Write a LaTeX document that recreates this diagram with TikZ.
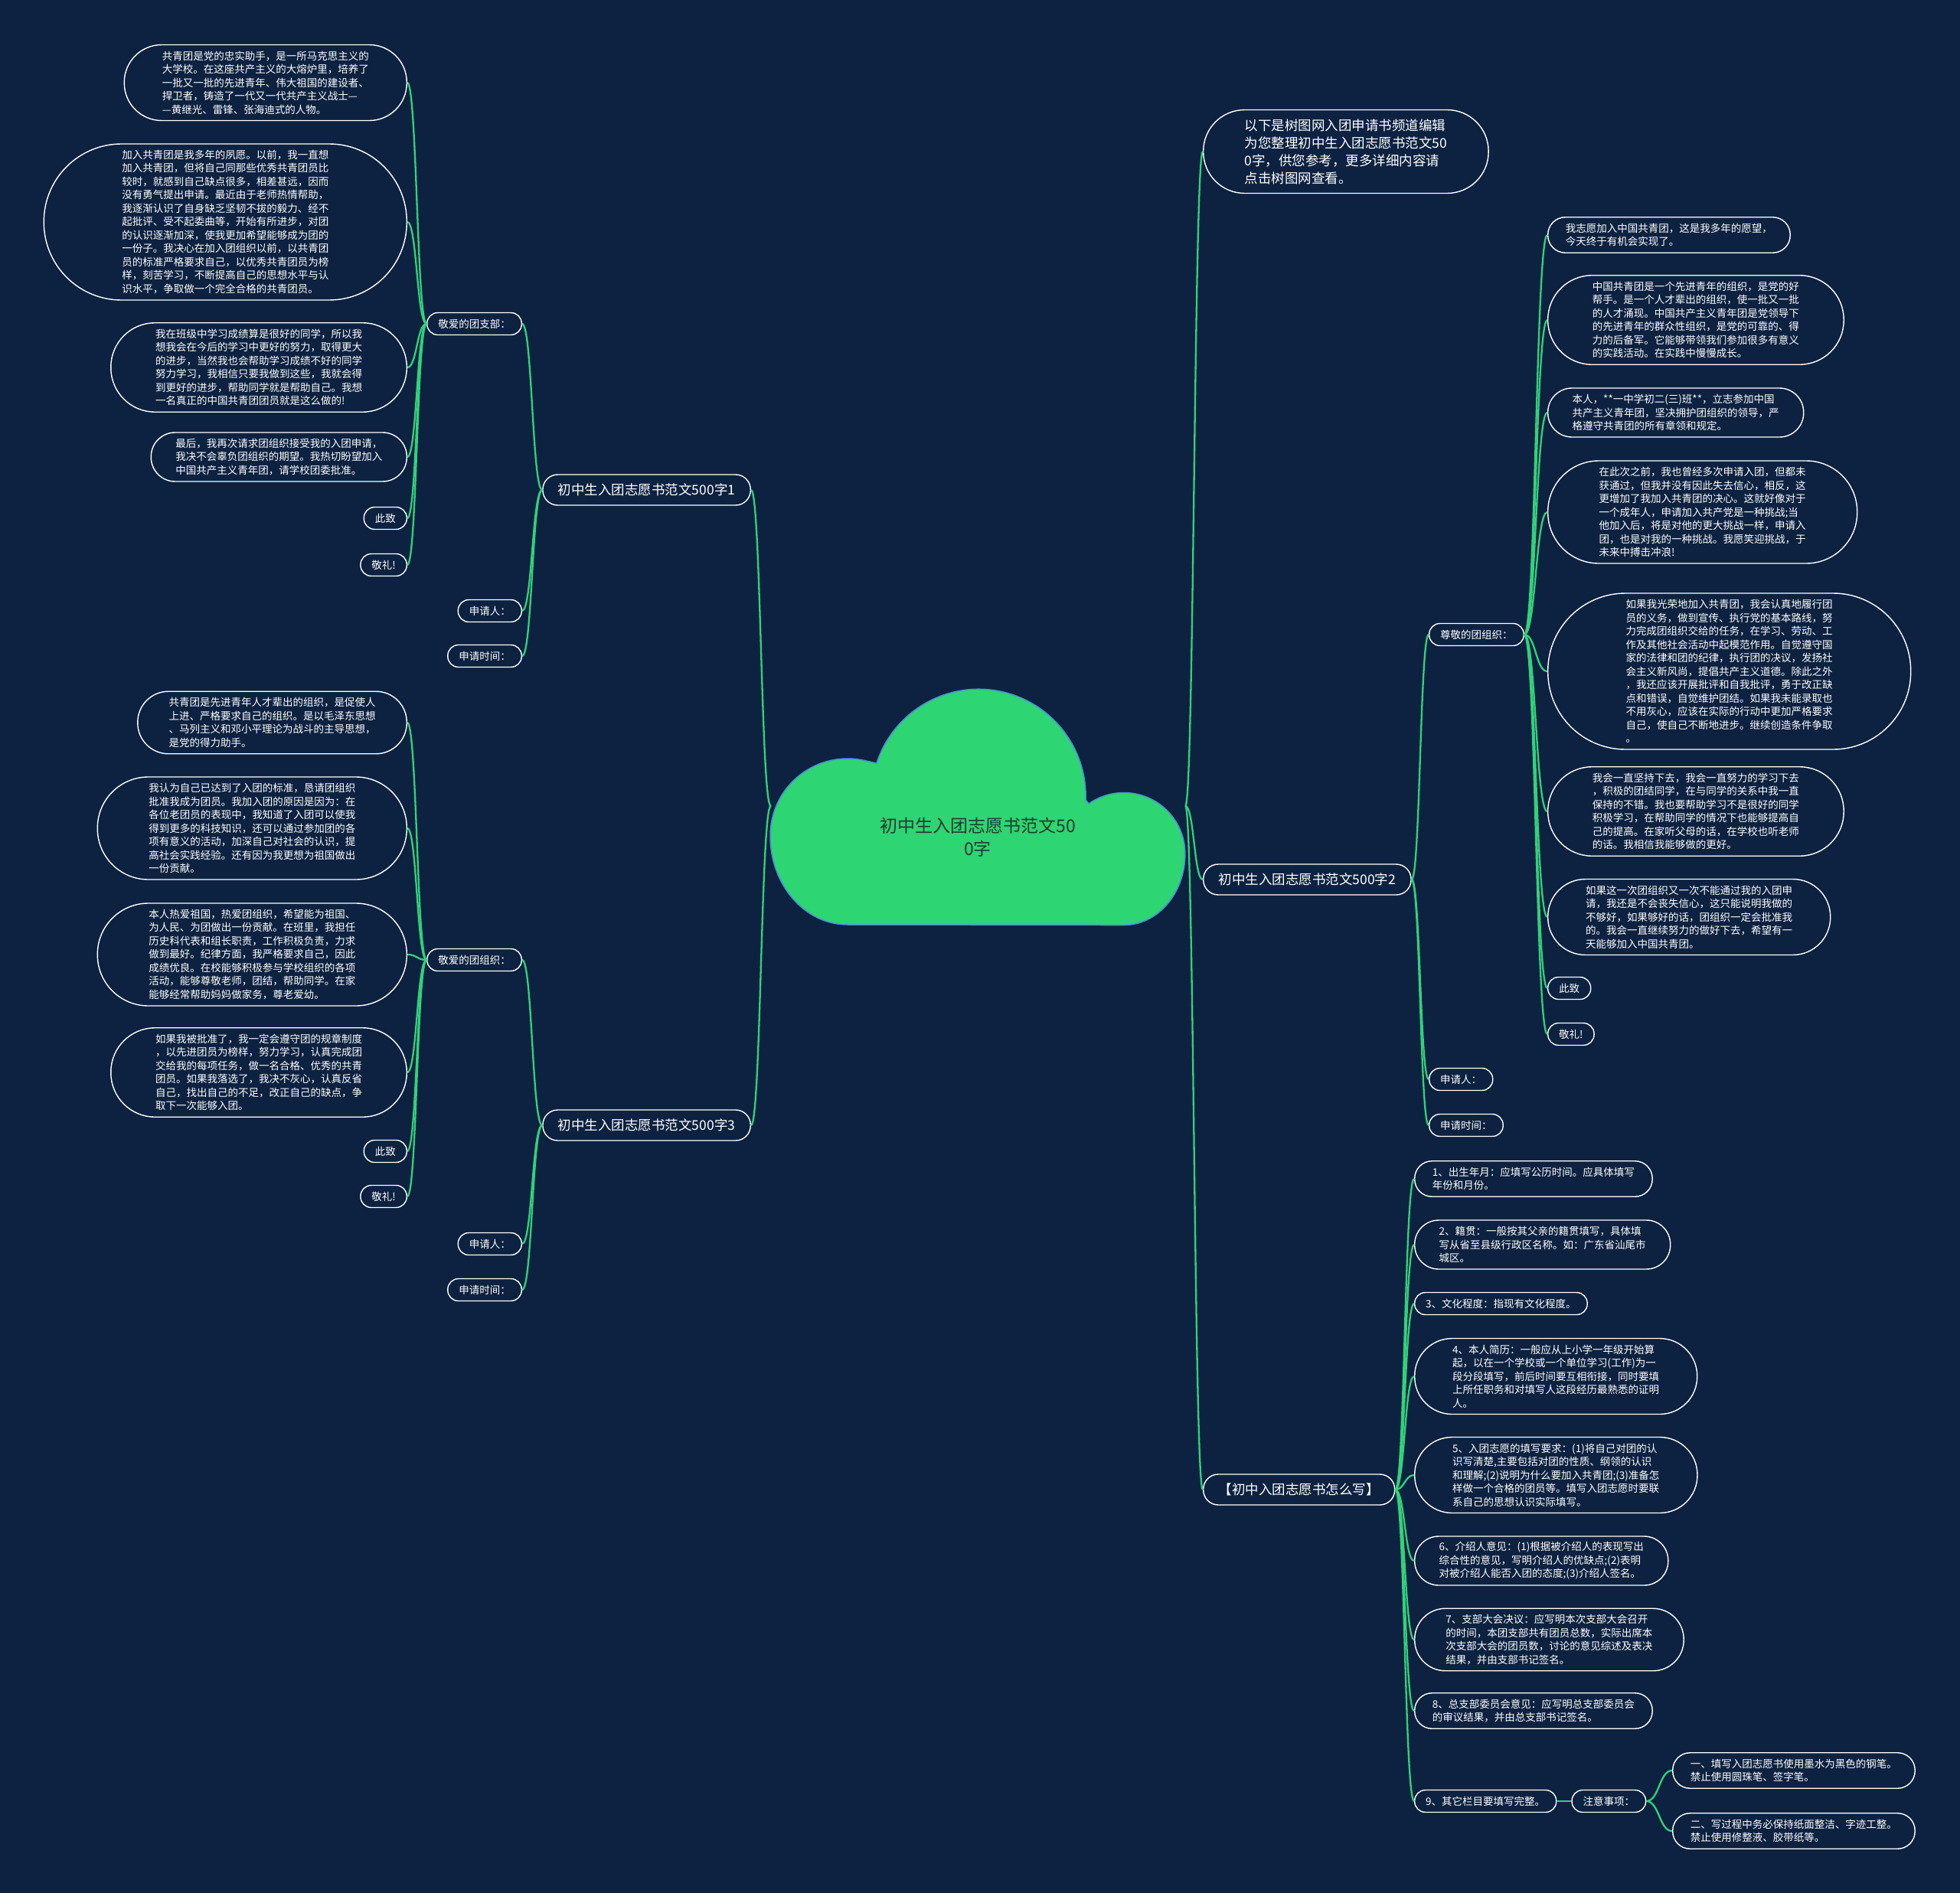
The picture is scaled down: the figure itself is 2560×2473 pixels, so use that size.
\documentclass[tikz,border=0pt]{standalone}
\usepackage{fontspec}
\setmainfont{Noto Sans CJK SC}
\usetikzlibrary{positioning, calc}
\definecolor{cBg}{HTML}{0D2240}
\definecolor{cLn}{HTML}{33D17A}
\definecolor{cCld}{HTML}{2ED573}
\definecolor{cCldB}{HTML}{4A90D9}
\definecolor{cRootT}{HTML}{1E3A2E}

\begin{document}
\begin{tikzpicture}[
    x=1pt, y=-1pt,
    nd/.style={rectangle, draw=white, fill=cBg, line width=1.4pt,
               text=white, align=left, inner ysep=5pt},
    % k = number of text lines
    nl/.style={nd, font=\fontsize{13.5}{17.5}\selectfont,
               minimum height={(#1-1)*17.5pt+29pt},
               inner xsep={(#1-1)*8.75pt+14.5pt},
               rounded corners={(#1-1)*8.75pt+14pt}},
    nbr/.style={nd, font=\fontsize{17.5}{23}\selectfont,
                minimum height=40pt, inner xsep=20pt, rounded corners=19.5pt},
    ln/.style={draw=cLn, line width=2.3pt,
               to path={let \p1=(\tikztostart), \p2=(\tikztotarget) in
                        .. controls ({0.5*\x1+0.5*\x2},\y1) and ({0.5*\x1+0.5*\x2},\y2) .. (\p2)}},
]

\fill[cBg] (0,0) rectangle (2560,2473);

% === CENTRE: cloud ===
\filldraw[fill=cCld, draw=cCldB, line width=1.5pt]
    (1107,1208) arc[start angle=90, end angle=180, x radius=101, y radius=116]
    arc[start angle=180, end angle=285, radius=101]
    -- (1145,997) arc[start angle=198, end angle=362, radius=140]
    -- (1422,1050) arc[start angle=235, end angle=360, radius=80]
    arc[start angle=0, end angle=90, x radius=80, y radius=93]
    -- cycle;
\node[minimum width=541pt, minimum height=310pt, inner sep=0pt] (root) at (1277.5,1053) {};
\node[font=\fontsize{23}{30}\selectfont, text=cRootT, align=center] (rootT) at (1277,1094)
    {初中生入团志愿书范文50\\0字};

% === MAIN BRANCHES ===
\node[nbr, anchor=east] (b1) at (981,640) {初中生入团志愿书范文500字1};
\node[nbr, anchor=east] (b3) at (981,1470) {初中生入团志愿书范文500字3};
\node[nbr, anchor=west, minimum height=109pt, inner xsep=54pt, rounded corners=54pt]
    (intro) at (1571,198)
    {以下是树图网入团申请书频道编辑\\为您整理初中生入团志愿书范文50\\0字，供您参考，更多详细内容请\\点击树图网查看。};
\node[nbr, anchor=west] (b2) at (1571,1149) {初中生入团志愿书范文500字2};
\node[nbr, anchor=west] (bw) at (1571,1946) {【初中入团志愿书怎么写】};

% === BRANCH 1 (left, top) ===
\node[nl=1, anchor=east] (g1) at (682,423) {敬爱的团支部：};
\node[nl=1, anchor=east] (a1) at (682,798) {申请人：};
\node[nl=1, anchor=east] (t1) at (682,857) {申请时间：};

\node[nl=5, anchor=east] (l1) at (532,108)
    {共青团是党的忠实助手，是一所马克思主义的\\大学校。在这座共产主义的大熔炉里，培养了\\一批又一批的先进青年、伟大祖国的建设者、\\捍卫者，铸造了一代又一代共产主义战士—\\—黄继光、雷锋、张海迪式的人物。};
\node[nl=11, anchor=east] (l2) at (532,290)
    {加入共青团是我多年的夙愿。以前，我一直想\\加入共青团，但将自己同那些优秀共青团员比\\较时，就感到自己缺点很多，相差甚远，因而\\没有勇气提出申请。最近由于老师热情帮助，\\我逐渐认识了自身缺乏坚韧不拔的毅力、经不\\起批评、受不起委曲等，开始有所进步，对团\\的认识逐渐加深，使我更加希望能够成为团的\\一份子。我决心在加入团组织以前，以共青团\\员的标准严格要求自己，以优秀共青团员为榜\\样，刻苦学习，不断提高自己的思想水平与认\\识水平，争取做一个完全合格的共青团员。};
\node[nl=6, anchor=east] (l3) at (532,480)
    {我在班级中学习成绩算是很好的同学，所以我\\想我会在今后的学习中更好的努力，取得更大\\的进步，当然我也会帮助学习成绩不好的同学\\努力学习，我相信只要我做到这些，我就会得\\到更好的进步，帮助同学就是帮助自己。我想\\一名真正的中国共青团团员就是这么做的!};
\node[nl=3, anchor=east] (l4) at (532,597)
    {最后，我再次请求团组织接受我的入团申请，\\我决不会辜负团组织的期望。我热切盼望加入\\中国共产主义青年团，请学校团委批准。};
\node[nl=1, anchor=east] (l5) at (532,677) {此致};
\node[nl=1, anchor=east] (l6) at (532,738) {敬礼!};

% === BRANCH 3 (left, bottom) ===
\node[nl=1, anchor=east] (g3) at (682,1254) {敬爱的团组织：};
\node[nl=1, anchor=east] (a3) at (682,1625) {申请人：};
\node[nl=1, anchor=east] (t3) at (682,1685) {申请时间：};

\node[nl=4, anchor=east] (m1) at (532,944)
    {共青团是先进青年人才辈出的组织，是促使人\\上进、严格要求自己的组织。是以毛泽东思想\\、马列主义和邓小平理论为战斗的主导思想，\\是党的得力助手。};
\node[nl=7, anchor=east] (m2) at (532,1082)
    {我认为自己已达到了入团的标准，恳请团组织\\批准我成为团员。我加入团的原因是因为：在\\各位老团员的表现中，我知道了入团可以使我\\得到更多的科技知识，还可以通过参加团的各\\项有意义的活动，加深自己对社会的认识，提\\高社会实践经验。还有因为我更想为祖国做出\\一份贡献。};
\node[nl=7, anchor=east] (m3) at (532,1247)
    {本人热爱祖国，热爱团组织，希望能为祖国、\\为人民、为团做出一份贡献。在班里，我担任\\历史科代表和组长职责，工作积极负责，力求\\做到最好。纪律方面，我严格要求自己，因此\\成绩优良。在校能够积极参与学校组织的各项\\活动，能够尊敬老师，团结，帮助同学。在家\\能够经常帮助妈妈做家务，尊老爱幼。};
\node[nl=6, anchor=east] (m4) at (532,1401)
    {如果我被批准了，我一定会遵守团的规章制度\\，以先进团员为榜样，努力学习，认真完成团\\交给我的每项任务，做一名合格、优秀的共青\\团员。如果我落选了，我决不灰心，认真反省\\自己，找出自己的不足，改正自己的缺点，争\\取下一次能够入团。};
\node[nl=1, anchor=east] (m5) at (532,1504) {此致};
\node[nl=1, anchor=east] (m6) at (532,1563) {敬礼!};

% === BRANCH 2 (right) ===
\node[nl=1, anchor=west] (g2) at (1866,829) {尊敬的团组织：};
\node[nl=1, anchor=west] (a2) at (1866,1410) {申请人：};
\node[nl=1, anchor=west] (t2) at (1866,1470) {申请时间：};

\node[nl=2, anchor=west] (r1) at (2021,307)
    {我志愿加入中国共青团，这是我多年的愿望，\\今天终于有机会实现了。};
\node[nl=6, anchor=west] (r2) at (2021,418)
    {中国共青团是一个先进青年的组织，是党的好\\帮手。是一个人才辈出的组织，使一批又一批\\的人才涌现。中国共产主义青年团是党领导下\\的先进青年的群众性组织，是党的可靠的、得\\力的后备军。它能够带领我们参加很多有意义\\的实践活动。在实践中慢慢成长。};
\node[nl=3, anchor=west] (r3) at (2021,539)
    {本人，**一中学初二(三)班**，立志参加中国\\共产主义青年团，坚决拥护团组织的领导，严\\格遵守共青团的所有章领和规定。};
\node[nl=7, anchor=west] (r4) at (2021,669)
    {在此次之前，我也曾经多次申请入团，但都未\\获通过，但我并没有因此失去信心，相反，这\\更增加了我加入共青团的决心。这就好像对于\\一个成年人，申请加入共产党是一种挑战;当\\他加入后，将是对他的更大挑战一样，申请入\\团，也是对我的一种挑战。我愿笑迎挑战，于\\未来中搏击冲浪!};
\node[nl=11, anchor=west] (r5) at (2021,877)
    {如果我光荣地加入共青团，我会认真地履行团\\员的义务，做到宣传、执行党的基本路线，努\\力完成团组织交给的任务，在学习、劳动、工\\作及其他社会活动中起模范作用。自觉遵守国\\家的法律和团的纪律，执行团的决议，发扬社\\会主义新风尚，提倡共产主义道德。除此之外\\，我还应该开展批评和自我批评，勇于改正缺\\点和错误，自觉维护团结。如果我未能录取也\\不用灰心，应该在实际的行动中更加严格要求\\自己，使自己不断地进步。继续创造条件争取\\。};
\node[nl=6, anchor=west] (r6) at (2021,1060)
    {我会一直坚持下去，我会一直努力的学习下去\\，积极的团结同学，在与同学的关系中我一直\\保持的不错。我也要帮助学习不是很好的同学\\积极学习，在帮助同学的情况下也能够提高自\\己的提高。在家听父母的话，在学校也听老师\\的话。我相信我能够做的更好。};
\node[nl=5, anchor=west] (r7) at (2021,1198)
    {如果这一次团组织又一次不能通过我的入团申\\请，我还是不会丧失信心，这只能说明我做的\\不够好，如果够好的话，团组织一定会批准我\\的。我会一直继续努力的做好下去，希望有一\\天能够加入中国共青团。};
\node[nl=1, anchor=west] (r8) at (2021,1291) {此致};
\node[nl=1, anchor=west] (r9) at (2021,1351) {敬礼!};

% === HOW TO WRITE (right, bottom) ===
\node[nl=2, anchor=west] (w1) at (1847,1540)
    {1、出生年月：应填写公历时间。应具体填写\\年份和月份。};
\node[nl=3, anchor=west] (w2) at (1847,1626)
    {2、籍贯：一般按其父亲的籍贯填写，具体填\\写从省至县级行政区名称。如：广东省汕尾市\\城区。};
\node[nl=1, anchor=west] (w3) at (1847,1703) {3、文化程度：指现有文化程度。};
\node[nl=5, anchor=west] (w4) at (1847,1798)
    {4、本人简历：一般应从上小学一年级开始算\\起，以在一个学校或一个单位学习(工作)为一\\段分段填写，前后时间要互相衔接，同时要填\\上所任职务和对填写人这段经历最熟悉的证明\\人。};
\node[nl=5, anchor=west] (w5) at (1847,1927)
    {5、入团志愿的填写要求：(1)将自己对团的认\\识写清楚,主要包括对团的性质、纲领的认识\\和理解;(2)说明为什么要加入共青团;(3)准备怎\\样做一个合格的团员等。填写入团志愿时要联\\系自己的思想认识实际填写。};
\node[nl=3, anchor=west] (w6) at (1847,2039)
    {6、介绍人意见：(1)根据被介绍人的表现写出\\综合性的意见，写明介绍人的优缺点;(2)表明\\对被介绍人能否入团的态度;(3)介绍人签名。};
\node[nl=4, anchor=west] (w7) at (1847,2142)
    {7、支部大会决议：应写明本次支部大会召开\\的时间，本团支部共有团员总数，实际出席本\\次支部大会的团员数，讨论的意见综述及表决\\结果，并由支部书记签名。};
\node[nl=2, anchor=west] (w8) at (1847,2235)
    {8、总支部委员会意见：应写明总支部委员会\\的审议结果，并由总支部书记签名。};
\node[nl=1, anchor=west] (w9) at (1847,2353) {9、其它栏目要填写完整。};

\node[nl=1, right=19pt of w9] (z) {注意事项：};
\node[nl=2, anchor=west] (z1) at (2184,2313)
    {一、填写入团志愿书使用墨水为黑色的钢笔。\\禁止使用圆珠笔、签字笔。};
\node[nl=2, anchor=west] (z2) at (2184,2392)
    {二、写过程中务必保持纸面整洁、字迹工整。\\禁止使用修整液、胶带纸等。};

% === CONNECTORS ===
\draw[ln] (root.west) to (b1.east);
\draw[ln] (root.west) to (b3.east);
\draw[ln] (root.east) to (intro.west);
\draw[ln] (root.east) to (b2.west);
\draw[ln] (root.east) to (bw.west);

\draw[ln] (b1.west) to (g1.east);
\draw[ln] (b1.west) to (a1.east);
\draw[ln] (b1.west) to (t1.east);
\draw[ln] (g1.west) to (l1.east);
\draw[ln] (g1.west) to (l2.east);
\draw[ln] (g1.west) to (l3.east);
\draw[ln] (g1.west) to (l4.east);
\draw[ln] (g1.west) to (l5.east);
\draw[ln] (g1.west) to (l6.east);

\draw[ln] (b3.west) to (g3.east);
\draw[ln] (b3.west) to (a3.east);
\draw[ln] (b3.west) to (t3.east);
\draw[ln] (g3.west) to (m1.east);
\draw[ln] (g3.west) to (m2.east);
\draw[ln] (g3.west) to (m3.east);
\draw[ln] (g3.west) to (m4.east);
\draw[ln] (g3.west) to (m5.east);
\draw[ln] (g3.west) to (m6.east);

\draw[ln] (b2.east) to (g2.west);
\draw[ln] (b2.east) to (a2.west);
\draw[ln] (b2.east) to (t2.west);
\draw[ln] (g2.east) to (r1.west);
\draw[ln] (g2.east) to (r2.west);
\draw[ln] (g2.east) to (r3.west);
\draw[ln] (g2.east) to (r4.west);
\draw[ln] (g2.east) to (r5.west);
\draw[ln] (g2.east) to (r6.west);
\draw[ln] (g2.east) to (r7.west);
\draw[ln] (g2.east) to (r8.west);
\draw[ln] (g2.east) to (r9.west);

\draw[ln] (bw.east) to (w1.west);
\draw[ln] (bw.east) to (w2.west);
\draw[ln] (bw.east) to (w3.west);
\draw[ln] (bw.east) to (w4.west);
\draw[ln] (bw.east) to (w5.west);
\draw[ln] (bw.east) to (w6.west);
\draw[ln] (bw.east) to (w7.west);
\draw[ln] (bw.east) to (w8.west);
\draw[ln] (bw.east) to (w9.west);
\draw[ln] (w9.east) to (z.west);
\draw[ln] (z.east) to (z1.west);
\draw[ln] (z.east) to (z2.west);

\end{tikzpicture}
\end{document}
